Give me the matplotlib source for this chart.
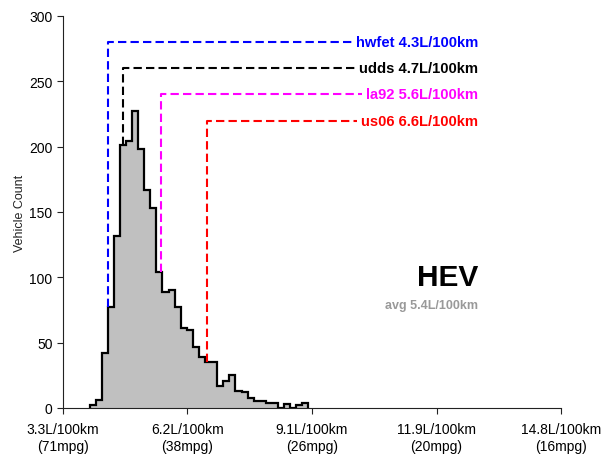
import matplotlib
matplotlib.use("Agg")
import matplotlib.pyplot as plt
import numpy as np

plt.rcParams['font.family'] = ['Liberation Sans', 'DejaVu Sans']

# histogram of fuel consumption (L/100km)
hist_start = 3.912
bin_width = 0.1404
counts = [2, 6, 42, 77, 132, 201, 204, 227, 198, 167, 153, 104, 89, 90, 77, 61,
          60, 47, 39, 35, 35, 17, 21, 25, 13, 12, 8, 5, 5, 4, 4, 0, 3, 0, 2, 4]

# drive cycles
cycle_names = ['hwfet', 'udds', 'la92', 'us06']
cycle_values = [4.35, 4.69, 5.57, 6.62]
cycle_labels = ['4.3', '4.7', '5.6', '6.6']
cycle_levels = [280, 260, 240, 220]
cycle_colors = ['#0000ff', '#000000', '#ff00ff', '#ff0000']

tick_values = [3.3, 6.175, 9.05, 11.925, 14.8]
tick_labels = ['3.3L/100km\n(71mpg)', '6.2L/100km\n(38mpg)', '9.1L/100km\n(26mpg)',
               '11.9L/100km\n(20mpg)', '14.8L/100km\n(16mpg)']

title = 'HEV'
avg_label = 'avg 5.4L/100km'

edges = hist_start + bin_width * np.arange(len(counts) + 1)
counts = np.array(counts, dtype=float)

fig = plt.figure(figsize=(6.04, 4.56), dpi=100)
ax = fig.add_axes([63 / 604, 47 / 456, (561 - 63) / 604, (409 - 17) / 456])

ax.stairs(counts, edges, fill=True, color='#c0c0c0', zorder=2)
ax.stairs(counts, edges, baseline=0, color='black', linewidth=1.6, zorder=3)

ax.set_xlim(3.3, 14.8)
ax.set_ylim(0, 300)
ax.set_xticks(tick_values)
ax.set_xticklabels(tick_labels, fontsize=10, linespacing=1.25)
ax.set_yticks(np.arange(0, 301, 50))
ax.tick_params(axis='both', direction='out', length=4, width=0.8, colors='#222222',
               labelcolor='black', labelsize=10)
ax.tick_params(axis='x', pad=6)
for s in ['top', 'right']:
    ax.spines[s].set_visible(False)
for s in ['left', 'bottom']:
    ax.spines[s].set_linewidth(0.8)
    ax.spines[s].set_color('#222222')
ax.set_ylabel('Vehicle Count', fontsize=9, labelpad=2, color='#222222')

text_x = 12.88
fig.canvas.draw()
renderer = fig.canvas.get_renderer()
inv = ax.transData.inverted()
for name, v, lab, lev, c in zip(cycle_names, cycle_values, cycle_labels, cycle_levels, cycle_colors):
    t = ax.text(text_x, lev, f'{name} {lab}L/100km', color=c, fontsize=10.6,
                fontweight='bold', ha='right', va='center', zorder=5)
    bb = t.get_window_extent(renderer)
    x_end = inv.transform((bb.x0 - 4, 0))[0]
    i = int((v - hist_start) // bin_width)
    y0 = counts[i] if 0 <= i < len(counts) else 0
    ax.plot([v, v, x_end], [y0, lev, lev], color=c, linewidth=1.5,
            linestyle=(0, (4, 2)), zorder=4)

ax.text(text_x, 100, title, fontsize=21.5, fontweight='bold', ha='right', va='center')
ax.text(text_x, 79, avg_label, fontsize=9, fontweight='bold', color='#999999',
        ha='right', va='center')

plt.savefig('out.png', dpi=100)
